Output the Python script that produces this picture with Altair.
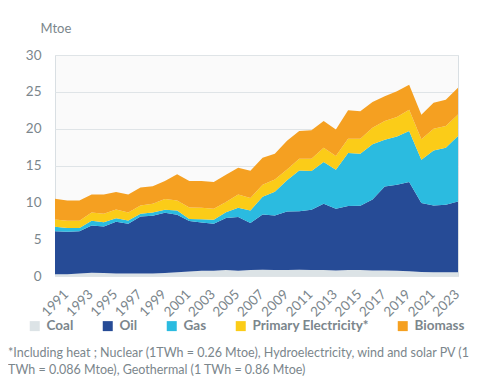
import altair as alt
import pandas as pd

years = list(range(1991, 2025))
coal = [0.25, 0.25, 0.35, 0.45, 0.4, 0.35, 0.35, 0.35, 0.35, 0.4, 0.5, 0.6, 0.7, 0.7, 0.8, 0.7, 0.8,
        0.85, 0.8, 0.8, 0.85, 0.8, 0.8, 0.75, 0.8, 0.8, 0.75, 0.75, 0.7, 0.65, 0.55, 0.5, 0.5, 0.5]
oil = [5.84, 5.75, 5.74, 6.41, 6.32, 7.01, 6.74, 7.73, 7.83, 8.2, 7.8, 6.85, 6.55, 6.39, 7.06, 7.3, 6.38,
       7.51, 7.4, 7.95, 7.95, 8.19, 9.01, 8.38, 8.69, 8.75, 9.64, 11.41, 11.69, 12.1, 9.35, 9.08, 9.17, 9.62]
gas = [0.59, 0.5, 0.41, 0.64, 0.58, 0.49, 0.45, 0.37, 0.45, 0.4, 0.6, 0.3, 0.45, 0.54, 0.81, 1.26, 1.72,
       2.39, 3.25, 4.25, 5.53, 5.25, 5.66, 5.3, 7.2, 7.05, 7.48, 6.34, 6.56, 6.93, 5.89, 7.47, 7.75, 8.88]
primary_electricity = [0.99, 1.0, 1.0, 1.13, 1.15, 1.18, 1.09, 1.13, 1.17, 1.45, 1.36, 1.55, 1.56, 1.49,
                       1.36, 1.81, 1.7, 1.65, 1.65, 1.45, 1.59, 1.68, 1.95, 1.85, 1.95, 2.04, 2.26, 2.54,
                       2.63, 2.9, 2.76, 2.95, 2.93, 2.94]
biomass = [2.83, 2.75, 2.75, 2.44, 2.62, 2.37, 2.44, 2.42, 2.4, 2.45, 3.54, 3.6, 3.64, 3.63, 3.72, 3.63,
           3.7, 3.66, 3.5, 3.9, 3.76, 3.85, 3.62, 3.62, 3.85, 3.71, 3.49, 3.35, 3.49, 3.39, 3.35, 3.53,
           3.59, 3.63]

series_names = ["Coal", "Oil", "Gas", "Primary Electricity*", "Biomass"]
series_colors = ["#dce3e6", "#264b96", "#2bbbe0", "#fbcc18", "#f5a021"]
tick_years = list(range(1991, 2024, 2))
footnote = [
    "*Including heat ; Nuclear (1TWh = 0.26 Mtoe), Hydroelectricity, wind and solar PV (1",
    "TWh = 0.086 Mtoe), Geothermal (1 TWh = 0.86 Mtoe)",
]

rows = []
for k, (name, vals) in enumerate(zip(series_names, [coal, oil, gas, primary_electricity, biomass])):
    for y, v in zip(years, vals):
        rows.append({"year": y, "series": name, "value": v, "order": k})
df = pd.DataFrame(rows)

FONT = "Lato"
GREY = "#7b868c"

chart = alt.Chart(df).mark_area(interpolate="linear").encode(
    x=alt.X("year:Q",
            scale=alt.Scale(domain=[1991, 2024], nice=False, zero=False),
            axis=alt.Axis(values=tick_years, format="d", labelAngle=-45, labelAlign="center",
                          labelBaseline="middle", labelPadding=27, ticks=False, grid=False,
                          domain=False, title=None, labelFontSize=13.5, labelColor=GREY,
                          labelFont=FONT, labelOverlap=False)),
    y=alt.Y("value:Q", stack="zero",
            scale=alt.Scale(domain=[0, 30], nice=False),
            axis=alt.Axis(values=[0, 5, 10, 15, 20, 25, 30], ticks=False, domain=False,
                          labelPadding=14, labelFontSize=13.5, labelColor=GREY, labelFont=FONT,
                          gridColor="#dfe4e7", gridWidth=1,
                          title="Mtoe", titleAngle=0, titleAlign="left", titleBaseline="middle",
                          titleX=-15, titleY=-27, titleFontSize=13, titleFontWeight="normal",
                          titleColor=GREY, titleFont=FONT)),
    color=alt.Color("series:N",
                    scale=alt.Scale(domain=series_names, range=series_colors),
                    sort=series_names,
                    legend=alt.Legend(orient="none", legendX=-27, legendY=264, direction="horizontal",
                                      columns=5, title=None, symbolType="square", symbolSize=100,
                                      symbolStrokeWidth=0, labelFontSize=13.5, labelFontWeight="bold",
                                      labelColor=GREY, labelFont=FONT, columnPadding=27,
                                      labelOffset=5)),
    order=alt.Order("order:Q", sort="ascending"),
).properties(
    width=403,
    height=221,
    autosize=alt.AutoSizeParams(type="none"),
    padding={"left": 47, "top": 47, "right": 27, "bottom": 100},
    title=alt.TitleParams(text=footnote, orient="bottom", anchor="start", frame="group",
                          fontSize=12.5, fontWeight="normal", color=GREY, font=FONT,
                          dx=-47, offset=14, lineHeight=17),
).configure_view(
    fill="#fafafa", stroke="#d9dfe3"
)

chart.save("out.html", embed_options={"renderer": "svg", "actions": False})
